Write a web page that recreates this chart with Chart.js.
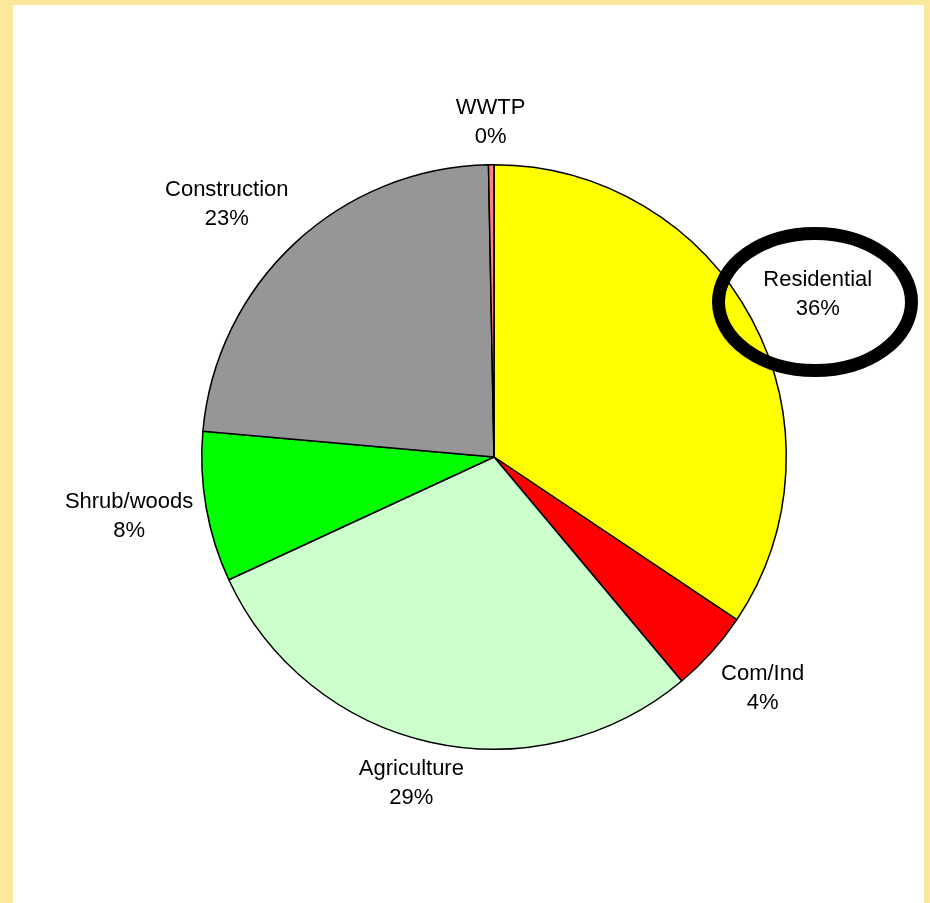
<!DOCTYPE html>
<html>
<head>
<meta charset="utf-8">
<script src="https://cdn.jsdelivr.net/npm/chart.js@4/dist/chart.umd.min.js"></script>
<style>
    body { margin: 0; background: #FCE89A; width: 930px; height: 903px; overflow: hidden; }
    #panel { position: absolute; left: 13px; top: 5px; width: 911px; height: 898px; background: #ffffff; }
    #chart { position: absolute; left: 0; top: 0; }
</style>
</head>
<body>
<div id="panel"></div>
<canvas id="chart" width="930" height="903"></canvas>
<script>
// Datos del gráfico
var categories = ['Residential', 'Com/Ind', 'Agriculture', 'Shrub/woods', 'Construction', 'WWTP'];
var shares = [34.4, 4.5, 29.2, 8.3, 23.3, 0.3];
var pctLabels = ['36%', '4%', '29%', '8%', '23%', '0%'];
var sliceColors = ['#FFFF00', '#FF0000', '#CCFFCC', '#00FF00', '#969696', '#FF8080'];

function clamp1(v) {
    return Math.max(-1, Math.min(1, v));
}

// Etiquetas fuera del pastel, estilo Excel
var outsideLabels = {
    id: 'outsideLabels',
    afterDatasetsDraw: function(chart) {
        var ctx = chart.ctx;
        var meta = chart.getDatasetMeta(0);
        ctx.save();
        ctx.font = '22px "Liberation Sans", Arial, sans-serif';
        ctx.fillStyle = '#000000';
        ctx.textAlign = 'center';
        ctx.textBaseline = 'middle';
        var lineH = 29;
        meta.data.forEach(function(arc, i) {
            var mid = (arc.startAngle + arc.endAngle) / 2;
            var c = Math.cos(mid), s = Math.sin(mid);
            var lines = [categories[i], pctLabels[i]];
            var w = Math.max(ctx.measureText(lines[0]).width, ctx.measureText(lines[1]).width);
            var h = lineH * lines.length;
            var r = arc.outerRadius + 13;
            var x = arc.x + c * r + clamp1(c * 1.4) * w / 2;
            var y = arc.y + s * r + clamp1(s * 1.4) * h / 2;
            ctx.fillText(lines[0], x, y - lineH / 2);
            ctx.fillText(lines[1], x, y + lineH / 2);
        });
        ctx.restore();
    },
    afterDraw: function(chart) {
        // óvalo negro que resalta "Residential"
        var ctx = chart.ctx;
        ctx.save();
        ctx.beginPath();
        ctx.ellipse(815, 302, 96.5, 68.5, 0, 0, Math.PI * 2);
        ctx.lineWidth = 13;
        ctx.strokeStyle = '#000000';
        ctx.stroke();
        ctx.restore();
    }
};

var ctx = document.getElementById('chart').getContext('2d');
var chart = new Chart(ctx, {
    type: 'pie',
    data: {
        labels: categories,
        datasets: [{
            data: shares,
            backgroundColor: sliceColors,
            borderColor: '#000000',
            borderWidth: 1.5
        }]
    },
    options: {
        responsive: false,
        animation: false,
        layout: {
            padding: { left: 201, top: 164, right: 143, bottom: 153 }
        },
        plugins: {
            legend: { display: false },
            tooltip: { enabled: false }
        }
    },
    plugins: [outsideLabels]
});
</script>
</body>
</html>
